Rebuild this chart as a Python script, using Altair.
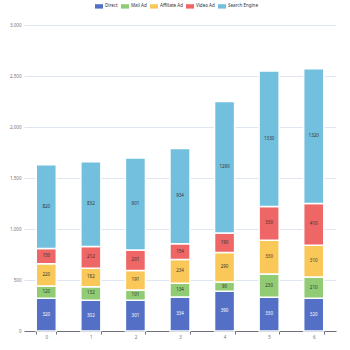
import altair as alt
import pandas as pd

days = ["0", "1", "2", "3", "4", "5", "6"]
series = ["Direct", "Mail Ad", "Affiliate Ad", "Video Ad", "Search Engine"]
direct = [320, 302, 301, 334, 390, 330, 320]
mail_ad = [120, 132, 101, 134, 90, 230, 210]
affiliate_ad = [220, 182, 191, 234, 290, 330, 310]
video_ad = [150, 212, 201, 154, 190, 330, 410]
search_engine = [820, 832, 901, 934, 1290, 1330, 1320]
colors = ["#5470c6", "#91cc75", "#fac858", "#ee6666", "#73c0de"]
y_ticks = [0, 500, 1000, 1500, 2000, 2500, 3000]

rows = []
for si, (name, vals) in enumerate(zip(series, [direct, mail_ad, affiliate_ad, video_ad, search_engine])):
    for d, v in zip(days, vals):
        rows.append({"day": d, "series": name, "value": v, "order": si})
df = pd.DataFrame(rows)

FONT = "Noto Sans"

x_enc = alt.X("day:N", sort=days, title=None,
              scale=alt.Scale(paddingInner=0.55, paddingOuter=0.275),
              axis=alt.Axis(labelAngle=0, labelFontSize=4.5, labelColor="#6E7079", labelFont=FONT,
                            domainColor="#6E7079", tickColor="#6E7079", tickSize=3,
                            tickBand="extent", labelPadding=0, grid=False))

base = alt.Chart(df).transform_stack(
    stack="value", groupby=["day"], as_=["y0", "y1"],
    sort=[alt.SortField("order", order="ascending")]
).transform_calculate(mid="(datum.y0 + datum.y1) / 2")

bars = base.mark_bar(stroke="white", strokeWidth=1.5).encode(
    x=x_enc,
    y=alt.Y("y0:Q", title=None,
            scale=alt.Scale(domain=[0, 3000], nice=False),
            axis=alt.Axis(values=y_ticks, labelExpr="format(datum.value, ',.0f')",
                          labelFontSize=4.5, labelColor="#6E7079", labelFont=FONT,
                          domain=False, ticks=False, labelPadding=3,
                          gridColor="#E0E6F1", gridWidth=1)),
    y2="y1:Q",
    color=alt.Color("series:N", sort=series,
                    scale=alt.Scale(domain=series, range=colors),
                    legend=alt.Legend(orient="none", legendX=71, legendY=-23, direction="horizontal",
                                      title=None, labelFontSize=4.5, labelColor="#333333", labelFont=FONT,
                                      symbolType="M-1,-0.55H1V0.55H-1Z", symbolSize=64,
                                      symbolStrokeWidth=0, symbolOpacity=1,
                                      columnPadding=3, labelOffset=2)),
    order=alt.Order("order:Q"),
)

text = base.mark_text(fontSize=4.5, font=FONT).encode(
    x=alt.X("day:N", sort=days),
    y=alt.Y("mid:Q"),
    text=alt.Text("value:Q"),
    color=alt.condition("datum.series == 'Direct'", alt.value("#ffffff"), alt.value("#333333")),
)

chart = alt.layer(bars, text).properties(
    width=312, height=306,
    autosize=alt.AutoSizeParams(type="none"),
    padding={"left": 24, "top": 25, "right": 14, "bottom": 19},
).configure_view(stroke=None)

chart.save("out.html", embed_options={"renderer": "svg", "actions": False})
